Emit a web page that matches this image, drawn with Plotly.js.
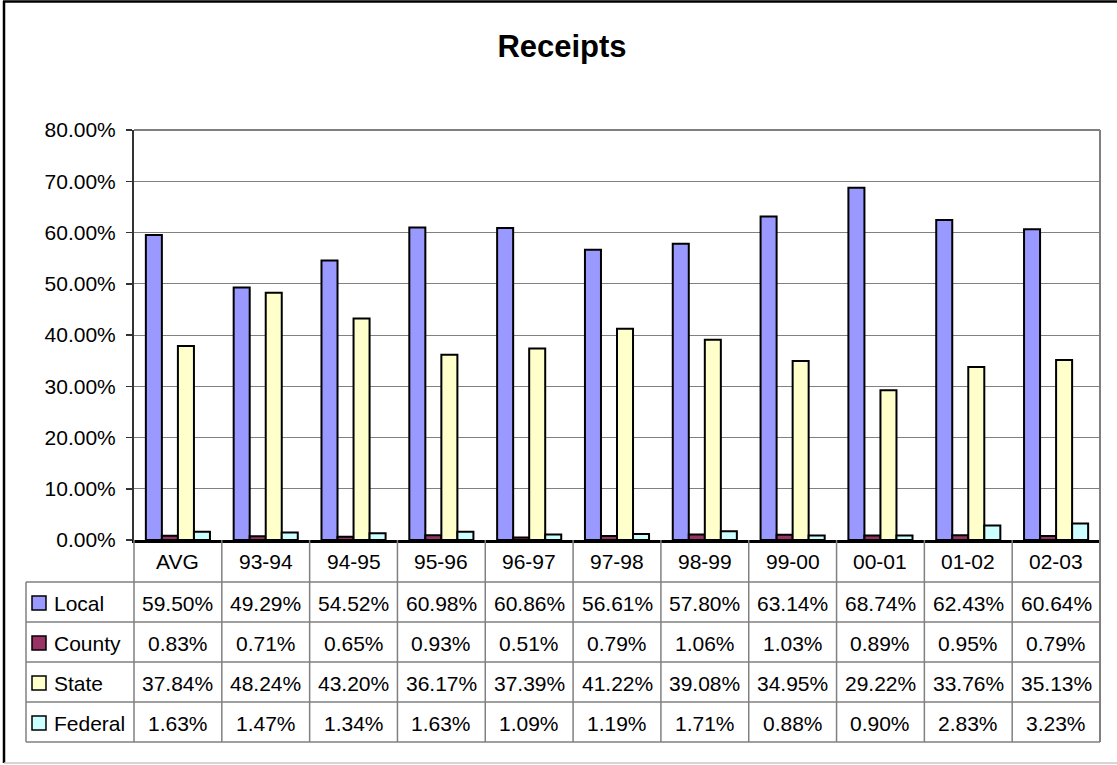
<!DOCTYPE html>
<html>
<head>
<meta charset="utf-8">
<script src="https://cdn.plot.ly/plotly-3.0.1.min.js"></script>
<style>
html,body{margin:0;padding:0;background:#fff;}
#chart{width:1117px;height:765px;}
</style>
</head>
<body>
<div id="chart"></div>
<script>
// ---- data ----
const categories = ['AVG','93-94','94-95','95-96','96-97','97-98','98-99','99-00','00-01','01-02','02-03'];
const seriesNames = ['Local','County','State','Federal'];
const local   = [59.50,49.29,54.52,60.98,60.86,56.61,57.80,63.14,68.74,62.43,60.64];
const county  = [0.83,0.71,0.65,0.93,0.51,0.79,1.06,1.03,0.89,0.95,0.79];
const state   = [37.84,48.24,43.20,36.17,37.39,41.22,39.08,34.95,29.22,33.76,35.13];
const federal = [1.63,1.47,1.34,1.63,1.09,1.19,1.71,0.88,0.90,2.83,3.23];
const seriesValues = [local, county, state, federal];
const seriesColors = ['#9999FF','#993366','#FFFFCC','#CCFFFF'];

// ---- geometry (pixels) ----
const W = 1117, H = 765;
const L = 134, R = 1100, T = 130, B = 540;
const pw = R - L, ph = B - T;
const px = x => (x - L) / pw;      // pixel x -> paper
const py = y => (B - y) / ph;      // pixel y -> paper
const FONT = 'Liberation Sans, Arial, sans-serif';
const GRAY = '#808080';

const traces = seriesNames.map((n, i) => ({
  type: 'bar', name: n, x: categories, y: seriesValues[i],
  marker: {color: seriesColors[i], line: {color: '#000', width: 2}},
  hoverinfo: 'x+y+name'
}));

const shapes = [];
const annotations = [];

// outer chart border
shapes.push({type:'line', xref:'paper', yref:'paper', x0:px(4), x1:px(4), y0:py(1), y1:py(763), line:{color:'#000', width:2.5}});
shapes.push({type:'line', xref:'paper', yref:'paper', x0:px(3), x1:px(1120), y0:py(1.5), y1:py(1.5), line:{color:'#000', width:2.5}});
shapes.push({type:'line', xref:'paper', yref:'paper', x0:px(4), x1:px(1120), y0:py(763), y1:py(763), line:{color:'#c8c8c8', width:1.5}});

// plot area border (top/right)
shapes.push({type:'line', xref:'paper', yref:'paper', x0:0, x1:1, y0:1, y1:1, line:{color:GRAY, width:2}});
shapes.push({type:'line', xref:'paper', yref:'paper', x0:1, x1:1, y0:py(742), y1:1, line:{color:GRAY, width:2}});

// data table
const rowY = [582, 622, 662, 702, 742];
rowY.forEach(y => shapes.push({type:'line', xref:'paper', yref:'paper', x0:px(26), x1:1, y0:py(y), y1:py(y), line:{color:GRAY, width:1.5}}));
shapes.push({type:'line', xref:'paper', yref:'paper', x0:px(26), x1:px(26), y0:py(582), y1:py(742), line:{color:GRAY, width:1.5}});
shapes.push({type:'line', xref:'paper', yref:'paper', x0:0, x1:0, y0:py(742), y1:0, line:{color:GRAY, width:1.5}});
for (let i = 1; i < categories.length; i++) {
  shapes.push({type:'line', xref:'x', yref:'paper', x0:i-0.5, x1:i-0.5, y0:py(742), y1:0, line:{color:GRAY, width:1.5}});
}
// category labels
categories.forEach((c, i) => annotations.push({xref:'x', yref:'paper', x:i, y:py(561), text:c, showarrow:false,
  font:{family:FONT, size:21, color:'#000'}, xanchor:'center', yanchor:'middle'}));
// values + legend keys
seriesNames.forEach((n, r) => {
  const yc = (rowY[r] + rowY[r+1]) / 2 + 1;
  shapes.push({type:'rect', xref:'paper', yref:'paper', x0:px(32), x1:px(46), y0:py(yc-7), y1:py(yc+7),
    fillcolor:seriesColors[r], line:{color:'#000', width:1.5}});
  annotations.push({xref:'paper', yref:'paper', x:px(52), y:py(yc), text:n, showarrow:false,
    font:{family:FONT, size:21, color:'#000'}, xanchor:'left', yanchor:'middle'});
  seriesValues[r].forEach((v, i) => annotations.push({xref:'x', yref:'paper', x:i, y:py(yc), text:v.toFixed(2)+'%', showarrow:false,
    font:{family:FONT, size:21, color:'#000'}, xanchor:'center', yanchor:'middle'}));
});

const layout = {
  width: W, height: H,
  margin: {l:L, r:W-R, t:T, b:H-B, pad:0},
  paper_bgcolor:'#fff', plot_bgcolor:'#fff',
  font: {family:FONT, size:21, color:'#000'},
  title: {text:'<b>Receipts</b>', x:562/W, xref:'container', xanchor:'center', y:1-46/H, yref:'container', yanchor:'middle',
          font:{family:FONT, size:31, color:'#000'}},
  showlegend:false,
  barmode:'group', bargap:0.27, bargroupgap:0,
  xaxis: {type:'category', showticklabels:false, ticks:'', showgrid:false, zeroline:false,
          showline:true, linecolor:'#000', linewidth:2.5, range:[-0.5, categories.length-0.5], fixedrange:true},
  yaxis: {range:[0,80], dtick:10, tickformat:'.2f', ticksuffix:'%', showgrid:true, gridcolor:GRAY, gridwidth:1,
          zeroline:false, showline:true, linecolor:'#333', linewidth:2, ticks:'outside', ticklen:6, tickwidth:1.5, tickcolor:'#333',
          ticklabelstandoff:6, tickfont:{family:FONT, size:21, color:'#000'}, fixedrange:true},
  shapes: shapes,
  annotations: annotations
};

Plotly.newPlot('chart', traces, layout, {displayModeBar:false, staticPlot:true});
</script>
</body>
</html>
